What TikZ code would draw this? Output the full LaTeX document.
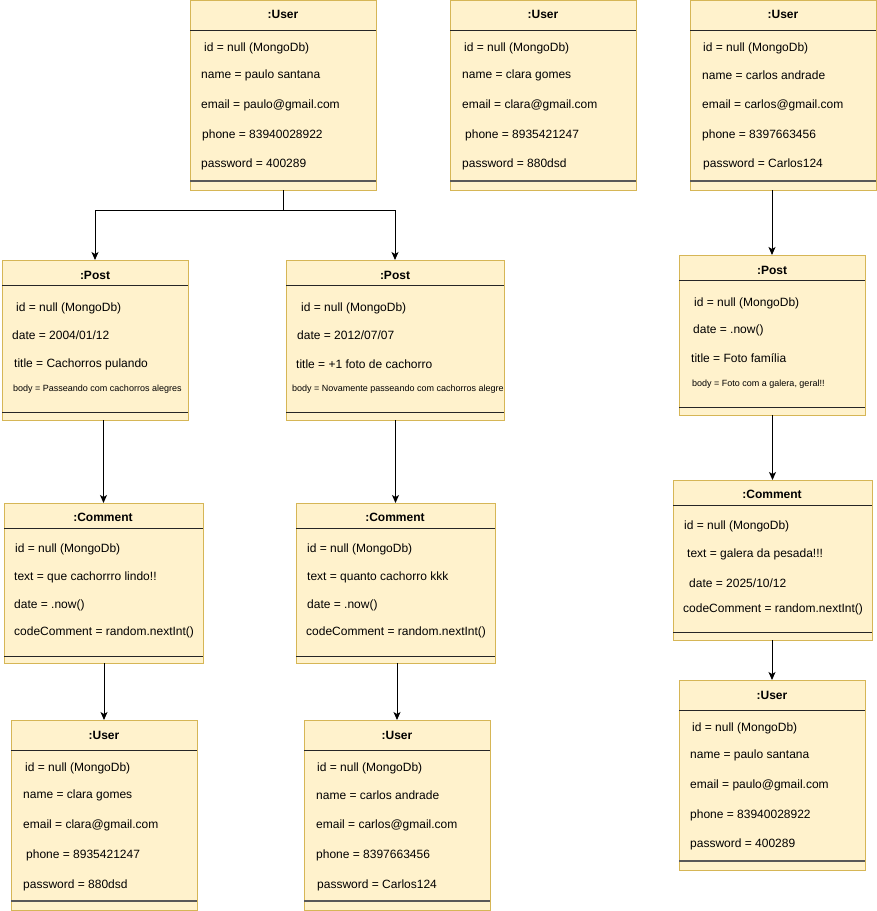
\documentclass[tikz,border=0pt]{standalone}
\usepackage{fontspec}
\setmainfont{Liberation Sans}
\usetikzlibrary{arrows.meta}
\definecolor{objfill}{HTML}{FFF2CC}
\definecolor{objline}{HTML}{D6B656}
\tikzset{
  objbox/.style={draw=objline, fill=objfill, line width=1pt, anchor=north west, inner sep=0pt, outer sep=0pt},
  objtitle/.style={font=\bfseries\fontsize{12}{14}\selectfont, inner sep=0pt},
  field/.style={anchor=west, inner sep=0pt, font=\fontsize{12}{14}\selectfont},
  smallfield/.style={anchor=west, inner sep=0pt, font=\fontsize{9}{11}\selectfont},
  topsep/.style={line width=1pt, black!85},
  endsep/.style={line width=1.4pt, black!65},
  conn/.style={-{Stealth[length=8pt,width=7pt,inset=2pt]}, line width=1pt}
}
\begin{document}
\begin{tikzpicture}[x=1pt,y=-1pt]
\useasboundingbox (0,0) rectangle (877,911);

% users on top
\node[objbox, minimum width=186pt, minimum height=190pt] (u1) at (190,0) {};
\node[objtitle] (u1t) at (283,14) {:User};
\draw[topsep] (190,30)--(376,30);
\draw[endsep] (190,181)--(376,181);
\node[field] (u1a) at (204,48) {id = null (MongoDb)};
\node[field] (u1b) at (201,75) {name = paulo santana};
\node[field] (u1c) at (201,105) {email = paulo@gmail.com};
\node[field] (u1d) at (202,135) {phone = 83940028922};
\node[field] (u1e) at (201,164) {password = 400289};

\node[objbox, minimum width=186pt, minimum height=190pt] (u2) at (450,0) {};
\node[objtitle] (u2t) at (543,14) {:User};
\draw[topsep] (450,30)--(636,30);
\draw[endsep] (450,181)--(636,181);
\node[field] (u2a) at (464,48) {id = null (MongoDb)};
\node[field] (u2b) at (462,75) {name = clara gomes};
\node[field] (u2c) at (462,105) {email = clara@gmail.com};
\node[field] (u2d) at (465,135) {phone = 8935421247};
\node[field] (u2e) at (462,164) {password = 880dsd};

\node[objbox, minimum width=186pt, minimum height=190pt] (u3) at (690,0) {};
\node[objtitle] (u3t) at (783,14) {:User};
\draw[topsep] (690,30)--(876,30);
\draw[endsep] (690,181)--(876,181);
\node[field] (u3a) at (703,48) {id = null (MongoDb)};
\node[field] (u3b) at (702,75) {name = carlos andrade};
\node[field] (u3c) at (702,105) {email = carlos@gmail.com};
\node[field] (u3d) at (702,135) {phone = 8397663456};
\node[field] (u3e) at (703,164) {password = Carlos124};

% posts
\node[objbox, minimum width=186pt, minimum height=160pt] (p1) at (2,260) {};
\node[objtitle] (p1t) at (95,275) {:Post};
\draw[topsep] (2,285)--(188,285);
\draw[topsep] (2,412)--(188,412);
\node[field] (p1a) at (16,308) {id = null (MongoDb)};
\node[field] (p1b) at (12,335) {date = 2004/01/12};
\node[field] (p1c) at (14,364) {title = Cachorros pulando};
\node[smallfield] (p1d) at (13,389) {body = Passeando com cachorros alegres};

\node[objbox, minimum width=218pt, minimum height=160pt] (p2) at (286,260) {};
\node[objtitle] (p2t) at (395,275) {:Post};
\draw[topsep] (286,285)--(504,285);
\draw[topsep] (286,412)--(504,412);
\node[field] (p2a) at (301,308) {id = null (MongoDb)};
\node[field] (p2b) at (297,335) {date = 2012/07/07};
\node[field] (p2c) at (296,364) {title = +1 foto de cachorro};
\node[smallfield] (p2d) at (292,389) {body = Novamente passeando com cachorros alegre};

\node[objbox, minimum width=186pt, minimum height=160pt] (p3) at (679,255) {};
\node[objtitle] (p3t) at (772,270) {:Post};
\draw[topsep] (679,280)--(865,280);
\draw[topsep] (679,407)--(865,407);
\node[field] (p3a) at (694,303) {id = null (MongoDb)};
\node[field] (p3b) at (693,330) {date = .now()};
\node[field] (p3c) at (691,358) {title = Foto família};
\node[smallfield] (p3d) at (692,384) {body = Foto com a galera, geral!!};

% comments
\node[objbox, minimum width=199pt, minimum height=160pt] (c1) at (4,503) {};
\node[objtitle] (c1t) at (103,517) {:Comment};
\draw[topsep] (4,528)--(203,528);
\draw[topsep] (4,656)--(203,656);
\node[field] (c1a) at (15,549) {id = null (MongoDb)};
\node[field] (c1b) at (14,577) {text = que cachorrro lindo!!};
\node[field] (c1c) at (14,605) {date = .now()};
\node[field] (c1d) at (14,632) {codeComment = random.nextInt()};

\node[objbox, minimum width=199pt, minimum height=160pt] (c2) at (296,503) {};
\node[objtitle] (c2t) at (395,517) {:Comment};
\draw[topsep] (296,528)--(495,528);
\draw[topsep] (296,656)--(495,656);
\node[field] (c2a) at (307,549) {id = null (MongoDb)};
\node[field] (c2b) at (307,577) {text = quanto cachorro kkk};
\node[field] (c2c) at (307,605) {date = .now()};
\node[field] (c2d) at (306,632) {codeComment = random.nextInt()};

\node[objbox, minimum width=199pt, minimum height=160pt] (c3) at (673,480) {};
\node[objtitle] (c3t) at (772,494) {:Comment};
\draw[topsep] (673,505)--(872,505);
\draw[topsep] (673,632)--(872,632);
\node[field] (c3a) at (684,526) {id = null (MongoDb)};
\node[field] (c3b) at (687,554) {text = galera da pesada!!!};
\node[field] (c3c) at (689,583) {date = 2025/10/12};
\node[field] (c3d) at (683,609) {codeComment = random.nextInt()};

% users at the bottom
\node[objbox, minimum width=186pt, minimum height=190pt] (u4) at (11,720) {};
\node[objtitle] (u4t) at (104,735) {:User};
\draw[topsep] (11,750)--(197,750);
\draw[endsep] (11,901)--(197,901);
\node[field] (u4a) at (25,768) {id = null (MongoDb)};
\node[field] (u4b) at (23,795) {name = clara gomes};
\node[field] (u4c) at (23,825) {email = clara@gmail.com};
\node[field] (u4d) at (26,855) {phone = 8935421247};
\node[field] (u4e) at (23,885) {password = 880dsd};

\node[objbox, minimum width=186pt, minimum height=190pt] (u5) at (304,720) {};
\node[objtitle] (u5t) at (397,735) {:User};
\draw[topsep] (304,750)--(490,750);
\draw[endsep] (304,901)--(490,901);
\node[field] (u5a) at (317,768) {id = null (MongoDb)};
\node[field] (u5b) at (316,795) {name = carlos andrade};
\node[field] (u5c) at (316,825) {email = carlos@gmail.com};
\node[field] (u5d) at (316,855) {phone = 8397663456};
\node[field] (u5e) at (317,885) {password = Carlos124};

\node[objbox, minimum width=186pt, minimum height=190pt] (u6) at (679,680) {};
\node[objtitle] (u6t) at (772,695) {:User};
\draw[topsep] (679,710)--(865,710);
\draw[endsep] (679,861)--(865,861);
\node[field] (u6a) at (692,728) {id = null (MongoDb)};
\node[field] (u6b) at (690,755) {name = paulo santana};
\node[field] (u6c) at (690,785) {email = paulo@gmail.com};
\node[field] (u6d) at (690,815) {phone = 83940028922};
\node[field] (u6e) at (690,844) {password = 400289};

% connectors
\draw[conn] (u1.south) -- ++(0,20) -| (p1.north);
\draw[conn] (u1.south) -- ++(0,20) -| (p2.north);
\draw[conn] (p3.north |- u3.south) -- (p3.north);
\draw[conn] (c1.north |- p1.south) -- (c1.north);
\draw[conn] (c2.north |- p2.south) -- (c2.north);
\draw[conn] (c3.north |- p3.south) -- (c3.north);
\draw[conn] (u4.north |- c1.south) -- (u4.north);
\draw[conn] (u5.north |- c2.south) -- (u5.north);
\draw[conn] (u6.north |- c3.south) -- (u6.north);
\end{tikzpicture}
\end{document}
